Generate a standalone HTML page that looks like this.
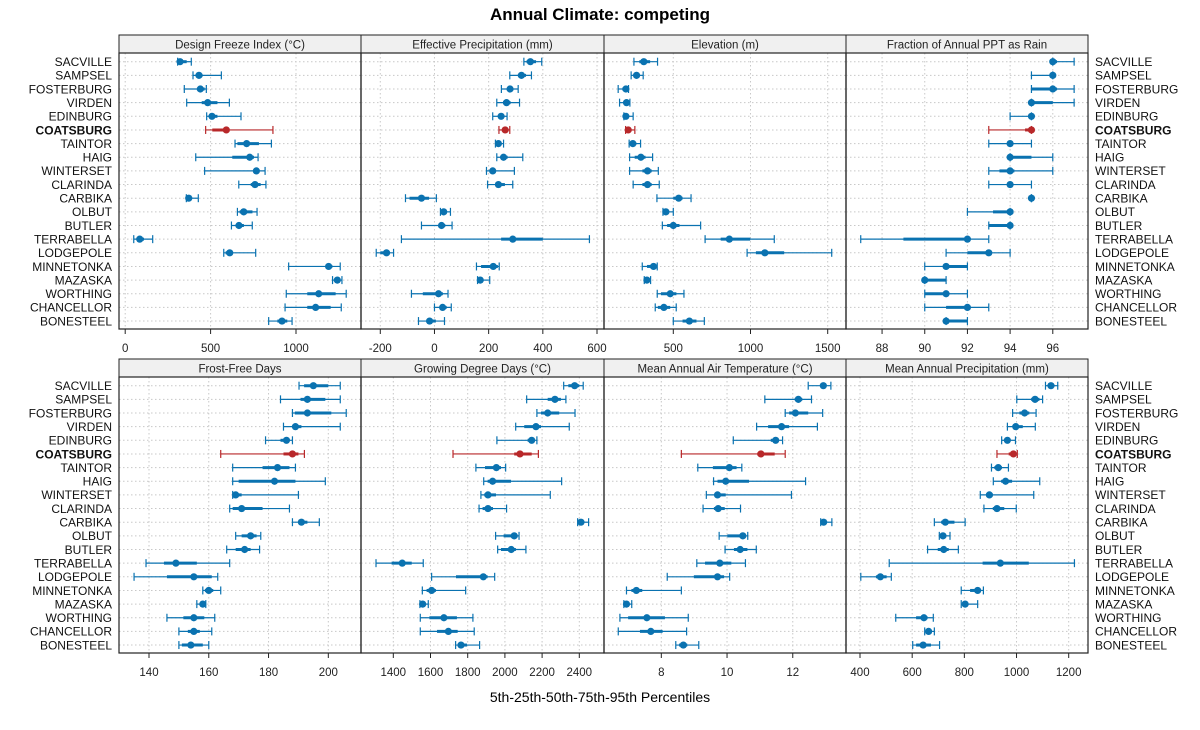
<!DOCTYPE html>
<html><head><meta charset="utf-8"><style>
html,body{margin:0;padding:0;background:#fff;}
svg text{font-family:"Liberation Sans",sans-serif;}
</style></head><body>
<svg id="chart" width="1200" height="725" viewBox="0 0 1200 725" xmlns="http://www.w3.org/2000/svg">
<rect x="0" y="0" width="1200" height="725" fill="#fff"/>
<text x="600" y="20" text-anchor="middle" font-size="17" font-weight="bold">Annual Climate: competing</text>
<text x="600" y="702" text-anchor="middle" font-size="14">5th-25th-50th-75th-95th Percentiles</text>
</svg>
<script>
const stations = ["SACVILLE","SAMPSEL","FOSTERBURG","VIRDEN","EDINBURG","COATSBURG","TAINTOR","HAIG","WINTERSET","CLARINDA","CARBIKA","OLBUT","BUTLER","TERRABELLA","LODGEPOLE","MINNETONKA","MAZASKA","WORTHING","CHANCELLOR","BONESTEEL"];
const highlight = "COATSBURG";
const panelTitles = ["Design Freeze Index (\u00B0C)","Effective Precipitation (mm)","Elevation (m)","Fraction of Annual PPT as Rain","Frost-Free Days","Growing Degree Days (\u00B0C)","Mean Annual Air Temperature (\u00B0C)","Mean Annual Precipitation (mm)"];
const panelDomains = [[-36.3,1380.6],[-271.2,625.8],[51.2,1618.5],[86.31,97.65],[129.96,210.94],[1226.3,2532.8],[6.256,13.62],[346.3,1274]];
const panelTicks = [[0,500,1000],[-200,0,200,400,600],[500,1000,1500],[88,90,92,94,96],[140,160,180,200],[1400,1600,1800,2000,2200,2400],[8,10,12],[400,600,800,1000,1200]];
// each row: [p5,p25,p50,p75,p95]
const freezeIndex = [[307,311,321,360,387],[397,413,432,453,563],[346,420,440,465,475],[360,448,483,540,610],[477,495,508,540,678],[471,510,592,605,865],[643,657,711,783,856],[413,627,729,754,778],[465,760,768,783,819],[665,735,760,793,824],[358,360,372,383,428],[657,670,694,745,772],[622,646,666,695,744],[50,71,85,110,161],[577,588,612,627,764],[957,1174,1191,1213,1259],[1214,1222,1242,1258,1269],[943,1066,1133,1232,1294],[936,1066,1115,1203,1265],[840,891,918,949,977]];
const effPrecip = [[330,340,354,375,396],[278,308,321,338,358],[247,270,279,290,309],[230,253,266,281,314],[215,235,246,258,268],[238,250,261,270,278],[225,230,236,245,255],[230,245,255,270,326],[192,203,215,225,295],[196,225,236,260,289],[-107,-92,-48,-20,7],[22,28,34,45,59],[-48,15,26,40,65],[-122,246,289,400,572],[-215,-200,-177,-165,-151],[155,172,217,234,239],[159,162,169,180,204],[-85,-43,15,31,50],[0,20,30,45,62],[-59,-30,-18,5,37]];
const elevation = [[245,280,309,350,398],[227,245,262,280,305],[143,170,193,200,210],[152,180,197,205,219],[180,185,193,210,240],[191,198,208,225,251],[214,225,238,260,288],[217,250,290,320,366],[217,300,333,360,403],[240,300,333,360,409],[394,500,535,560,615],[433,440,452,470,500],[429,460,500,540,677],[706,807,863,998,1154],[978,1035,1093,1218,1526],[299,330,372,390,396],[312,318,329,340,353],[396,420,480,520,569],[383,400,439,480,519],[500,560,604,650,701]];
const rainFraction = [[96,96,96,96.2,97],[95,96,96,96,96],[95,95,96,96.2,97],[95,95,95,96,97],[94,95,95,95,95],[93,94.7,95,95,95],[93,94,94,94,95],[94,94,94,95,96],[93,93.5,94,94.2,96],[93,94,94,94,95],[95,95,95,95,95],[92,93.2,94,94,94],[93,93,94,94,94],[87,89,92,92,93],[91,92,93,93,94],[90,91,91,92,92],[90,90,90,91,91],[90,90,91,91,92],[90,91,92,92,93],[91,91,91,92,92]];
const frostFree = [[190.2,191.9,195,200,204],[184,190.7,193,199,204],[188,188.8,193,201,206],[185,188,189,191,204],[179,184,186,187,188],[164,185,188,190,192],[168,178,183,187,189],[168,170,182,189,199],[168,168.2,169,171,190],[167,168,171,178,187],[188,190,191,193,197],[169,171,174,176,177.4],[166,169,172,174,177],[139,145,149,156,167],[135,146,155,161,163],[158,158.7,160,161.5,164],[156,157,158,158.5,159],[146,151.5,155,158.5,162],[150,153,155,157,161],[150,151,154,158,160]];
const gdd = [[2316,2341,2375,2400,2421],[2117,2230,2269,2301,2328],[2172,2194,2230,2292,2377],[2058,2104,2167,2194,2346],[1957,2122,2144,2158,2172],[1721,2050,2081,2144,2180],[1844,1893,1954,1979,2004],[1886,1907,1934,2033,2305],[1871,1889,1909,1952,2244],[1861,1880,1909,1936,2009],[2391,2395,2409,2423,2450],[1950,1993,2050,2068,2076],[1961,1979,2034,2059,2113],[1307,1391,1448,1499,1561],[1606,1737,1884,1907,1945],[1556,1579,1606,1629,1789],[1543,1547,1558,1567,1588],[1545,1594,1672,1742,1828],[1545,1635,1696,1746,1835],[1735,1746,1764,1796,1864]];
const maat = [[12.47,12.85,12.93,13.0,13.16],[11.15,12.06,12.17,12.29,12.57],[11.77,11.89,12.08,12.47,12.91],[10.90,11.25,11.66,11.89,12.75],[10.19,11.33,11.48,11.58,11.69],[8.61,10.92,11.03,11.45,11.77],[9.11,9.57,10.07,10.29,10.45],[9.59,9.71,9.96,10.67,12.39],[9.37,9.63,9.71,9.96,11.96],[9.27,9.60,9.73,9.93,10.41],[12.85,12.87,12.94,13.04,13.19],[9.76,10.01,10.48,10.57,10.63],[9.94,10.21,10.40,10.62,10.89],[9.08,9.33,9.78,10.13,10.56],[8.18,8.99,9.71,9.91,10.08],[6.94,7.09,7.24,7.42,8.61],[6.86,6.88,6.94,7.02,7.10],[6.74,6.99,7.56,8.11,8.82],[6.69,7.35,7.68,8.04,8.77],[8.44,8.54,8.67,8.79,9.14]];
const map = [[1111,1120,1132,1145,1158],[1001,1056,1071,1088,1100],[985,1011,1031,1049,1075],[965,985,997,1024,1072],[943,953,965,976,996],[925,970,988,998,1003],[904,915,930,944,969],[911,941,958,983,1089],[861,883,896,909,1066],[875,909,925,953,999],[685,711,727,762,803],[704,711,718,730,745],[659,698,721,740,777],[512,870,938,1047,1222],[403,461,478,502,520],[788,822,851,864,873],[788,794,803,810,851],[537,615,645,659,681],[648,653,663,672,685],[602,615,642,672,705]];
const panelData = [freezeIndex,effPrecip,elevation,rainFraction,frostFree,gdd,maat,map];

const NS="http://www.w3.org/2000/svg";
const svg=document.getElementById('chart');
function mk(tag,attrs,parent){const e=document.createElementNS(NS,tag);for(const k in attrs)e.setAttribute(k,attrs[k]);(parent||svg).appendChild(e);return e;}
const colX=[119,361,604,846,1088];
const rowTop=[35,359];
const stripH=18, plotH=276;
const BLUE="#0a72b0", RED="#b8282a";

for(let p=0;p<8;p++){
  const c=p%4, r=Math.floor(p/4);
  const x0=colX[c], x1=colX[c+1], y0=rowTop[r], yp=y0+stripH, yb=yp+plotH;
  const dom=panelDomains[p];
  const xs=v=>x0+(v-dom[0])/(dom[1]-dom[0])*(x1-x0);
  const ys=i=>yp+8.7+i*13.65;
  const g=mk('g',{});
  
  
  const st=mk('rect',{x:x0,y:y0,width:x1-x0,height:stripH,fill:'#f0f0f0',stroke:'#222','stroke-width':1},g);
  
  
  const stt=mk('text',{x:(x0+x1)/2,y:y0+13.5,'text-anchor':'middle','font-size':11.5,fill:'#222'},g);
  stt.textContent=panelTitles[p];
  
  
  for(let i=0;i<stations.length;i++){
    mk('line',{x1:x0,x2:x1,y1:ys(i),y2:ys(i),stroke:'#c8c8c8','stroke-dasharray':'1.5,2.5','stroke-width':1},g);
  }
  panelTicks[p].forEach(t=>{
    const tx=xs(t);
    mk('line',{x1:tx,x2:tx,y1:yp,y2:yb,stroke:'#c8c8c8','stroke-dasharray':'1.5,2.5','stroke-width':1},g);
    mk('line',{x1:tx,x2:tx,y1:yb,y2:yb+5,stroke:'#222','stroke-width':1},g);
    const tl=mk('text',{x:tx,y:yb+23,'text-anchor':'middle','font-size':11.5,fill:'#222'},g);
    tl.textContent=String(t);
    
    
  });
  panelData[p].forEach((d,i)=>{
    const col=stations[i]===highlight?RED:BLUE;
    const y=ys(i);
    const m=mk('g',{},g);
    
    
    mk('line',{x1:xs(d[0]),x2:xs(d[4]),y1:y,y2:y,stroke:col,'stroke-width':1.2},m);
    mk('line',{x1:xs(d[0]),x2:xs(d[0]),y1:y-4,y2:y+4,stroke:col,'stroke-width':1.2},m);
    mk('line',{x1:xs(d[4]),x2:xs(d[4]),y1:y-4,y2:y+4,stroke:col,'stroke-width':1.2},m);
    mk('line',{x1:xs(d[1]),x2:xs(d[3]),y1:y,y2:y,stroke:col,'stroke-width':3},m);
    mk('circle',{cx:xs(d[2]),cy:y,r:3.6,fill:col},m);
  });
  const fr=mk('rect',{x:x0,y:yp,width:x1-x0,height:plotH,fill:'none',stroke:'#222','stroke-width':1.2},g);
  
  
  if(c===0||c===3){
    stations.forEach((s,i)=>{
      const t=mk('text',{x:c===0?112:1095,y:ys(i)+4.3,'text-anchor':c===0?'end':'start','font-size':12,fill:'#111'},svg);
      if(s===highlight)t.setAttribute('font-weight','bold');
      t.textContent=s;
      
      
    });
  }
}
</script>
</body></html>
